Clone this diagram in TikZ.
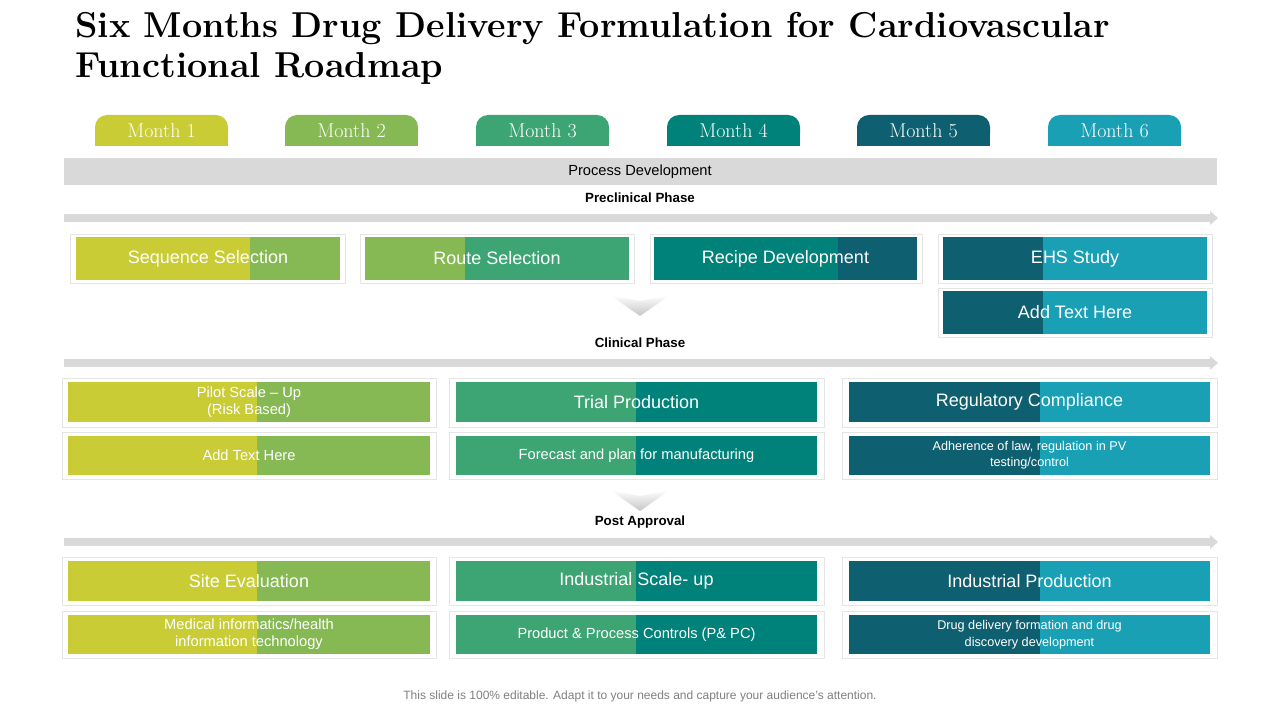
\documentclass[tikz,border=0pt]{standalone}
\usepackage{fontspec}
\setmainfont{Liberation Sans}
\newfontfamily\titlefont{Latin Modern Roman}
\usetikzlibrary{shadows}
\definecolor{ca}{HTML}{C9CC35}
\definecolor{cb}{HTML}{86B953}
\definecolor{cc}{HTML}{3DA574}
\definecolor{cd}{HTML}{00827A}
\definecolor{ce}{HTML}{0E6070}
\definecolor{cf}{HTML}{19A0B5}
\definecolor{gbar}{HTML}{D9D9D9}
\tikzset{
 frame/.style={fill=white,draw=gray!20,line width=0.6pt,drop shadow={shadow xshift=1pt,shadow yshift=-1pt,opacity=0.25}},
 tab/.style={rounded corners=9pt},
 lbl/.style={text=white,align=center,inner sep=0pt},
 phase/.style={font=\bfseries\fontsize{10}{12}\selectfont,inner sep=0pt},
}
% box: x1,x2,xs,y1,y2,colA,colB,name,text,font
\newcommand{\twobox}[9]{%
 \fill[#6] (#1,#4) rectangle (#3,#5);
 \fill[#7] (#3,#4) rectangle (#2,#5);
 \node[lbl] (#8) at ({(#1+#2)/2},{(#4+#5)/2}) {#9};}
\begin{document}
\begin{tikzpicture}[x=0.75pt,y=-0.75pt]
\useasboundingbox (0,0) rectangle (1280,720);
% title
\node[anchor=west,inner sep=0pt,font=\titlefont\bfseries\fontsize{27}{30}\selectfont] (t1) at (75,29) {Six Months Drug Delivery Formulation for Cardiovascular};
\node[anchor=west,inner sep=0pt,font=\titlefont\bfseries\fontsize{27}{30}\selectfont] (t2) at (75,69) {Functional Roadmap};
% tabs
\foreach \x/\c/\n in {95/ca/1,285/cb/2,476/cc/3,667/cd/4,857/ce/5,1048/cf/6}{
 \fill[\c,tab] (\x,146) -- (\x,115) -- (\x+133,115) -- (\x+133,146) -- cycle;
 \fill[\c] (\x,135) rectangle (\x+133,146);
 \node[text=white,font=\titlefont\fontsize{15}{18}\selectfont,inner sep=0pt] (m\n) at (\x+66.5,131) {Month \n};
}
% process bar
\fill[gbar] (64,158) rectangle (1217,185);
\node[font=\fontsize{11}{13}\selectfont,inner sep=0pt] (pd) at (640,172) {Process Development};
% phase arrows
\foreach \y/\t/\n in {218/Preclinical Phase/pa,363/Clinical Phase/pb,542/Post Approval/pc}{
 \fill[gbar] (64,\y-4) rectangle (1210,\y+4);
 \fill[gbar] (1210,\y-7) -- (1218,\y) -- (1210,\y+7) -- cycle;
 \node[phase] (\n) at (640,\y-20) {\t};
}
% chevrons
\foreach \y in {295,490}{
 \shade[top color=white,bottom color=gray!45] (610,\y) -- (640,\y+6) -- (670,\y) -- (640,\y+21) -- cycle;
}
\def\big{\fontsize{13.5}{16}\selectfont}
\def\med{\fontsize{11}{13}\selectfont}
\def\sml{\fontsize{9.5}{11}\selectfont}
% row 1 frames
\foreach \a/\b in {70/345,360/634,650/922,938/1212}{\draw[frame] (\a,234) rectangle (\b,283);}
\draw[frame] (938,288) rectangle (1212,337);
\twobox{76}{340}{250}{237}{280}{ca}{cb}{r1a}{\big Sequence Selection}
\twobox{365}{629}{465}{237}{280}{cb}{cc}{r1b}{\big Route Selection}
\twobox{654}{917}{838}{237}{280}{cd}{ce}{r1c}{\big Recipe Development}
\twobox{943}{1207}{1043}{237}{280}{ce}{cf}{r1d}{\big EHS Study}
\twobox{943}{1207}{1043}{291}{334}{ce}{cf}{r1e}{\big Add Text Here}
% rows 2,3
\foreach \a/\b in {62/436,449/824,842/1217}{
 \draw[frame] (\a,378) rectangle (\b,427);
 \draw[frame] (\a,432) rectangle (\b,479);
 \draw[frame] (\a,557) rectangle (\b,605);
 \draw[frame] (\a,611) rectangle (\b,658);
}
\twobox{68}{430}{257}{382}{422}{ca}{cb}{r2a}{\med Pilot Scale – Up\\[1pt]\med (Risk Based)}
\twobox{456}{817}{636}{382}{422}{cc}{cd}{r2b}{\big Trial Production}
\twobox{849}{1210}{1040}{382}{422}{ce}{cf}{r2c}{\big Regulatory Compliance}
\twobox{68}{430}{257}{436}{475}{ca}{cb}{r2d}{\med Add Text Here}
\twobox{456}{817}{636}{436}{475}{cc}{cd}{r2e}{\med Forecast and plan for manufacturing}
\twobox{849}{1210}{1040}{436}{475}{ce}{cf}{r2f}{\sml Adherence of law, regulation in PV\\\sml testing/control}
\twobox{68}{430}{257}{561}{601}{ca}{cb}{r3a}{\big Site Evaluation}
\twobox{456}{817}{636}{561}{601}{cc}{cd}{r3b}{\big Industrial Scale- up}
\twobox{849}{1210}{1040}{561}{601}{ce}{cf}{r3c}{\big Industrial Production}
\twobox{68}{430}{257}{615}{654}{ca}{cb}{r3d}{\med Medical informatics/health\\[1pt]\med information technology}
\twobox{456}{817}{636}{615}{654}{cc}{cd}{r3e}{\med Product \& Process Controls (P\& PC)}
\twobox{849}{1210}{1040}{615}{654}{ce}{cf}{r3f}{\sml Drug delivery formation and drug\\[1pt]\sml discovery development}
\node[text=gray,font=\fontsize{9}{11}\selectfont,inner sep=0pt] (ft) at (640,696) {This slide is 100\% editable. Adapt it to your needs and capture your audience's attention.};
\end{tikzpicture}
\end{document}
